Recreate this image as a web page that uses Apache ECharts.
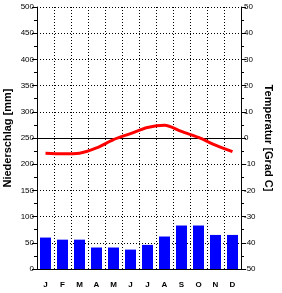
<!DOCTYPE html>
<html>
<head>
<meta charset="utf-8">
<script src="https://cdn.jsdelivr.net/npm/echarts@6/dist/echarts.min.js"></script>
<style>html,body{margin:0;padding:0;background:#fff;}#c{width:282px;height:293px;}</style>
</head>
<body>
<div id="c"></div>
<script>
var months = ['J','F','M','A','M','J','J','A','S','O','N','D'];
var precipitation = [60, 56, 56, 41, 41, 37, 46, 62, 83, 83, 65, 65];
var temperature = [-5.8, -6.0, -5.8, -3.8, -0.6, 1.7, 4.0, 4.9, 2.5, 0.2, -2.7, -5.2];
var leftTitle = 'Niederschlag [mm]';
var rightTitle = 'Temperatur [Grad C]';

var chart = echarts.init(document.getElementById('c'), null, {renderer: 'canvas'});
var dotted = {color: '#000', width: 1, type: [1, 2]};
var tickFont = {fontFamily: 'Liberation Sans, Arial, sans-serif', fontSize: 8, color: '#000'};
chart.setOption({
  animation: false,
  grid: {left: 37, right: 41, top: 7, bottom: 24, containLabel: false, outerBoundsMode: 'none'},
  xAxis: {
    type: 'category', data: months, boundaryGap: true,
    axisLine: {show: true, lineStyle: {color: '#000', width: 1}},
    axisTick: {show: false},
    axisLabel: Object.assign({margin: 12, fontWeight: 'bold', interval: 0}, tickFont),
    splitLine: {show: true, interval: 0, lineStyle: dotted}
  },
  yAxis: [{
    type: 'value', min: 0, max: 500, interval: 50, position: 'left',
    name: leftTitle, nameLocation: 'middle', nameGap: 24, nameRotate: 90, nameMoveOverlap: false,
    nameTextStyle: {fontFamily: 'Liberation Sans, Arial, sans-serif', fontSize: 11, fontWeight: 'bold', color: '#000'},
    axisLine: {show: true, lineStyle: {color: '#000', width: 1}},
    axisTick: {show: true, length: 5, lineStyle: {color: '#000'}},
    minorTick: {show: true, splitNumber: 2, length: 3, lineStyle: {color: '#000'}},
    axisLabel: Object.assign({margin: 3}, tickFont),
    splitLine: {show: true, lineStyle: dotted}
  }, {
    type: 'value', min: -50, max: 50, interval: 10, position: 'right',
    name: rightTitle, nameLocation: 'middle', nameGap: 22, nameRotate: -90, nameMoveOverlap: false,
    nameTextStyle: {fontFamily: 'Liberation Sans, Arial, sans-serif', fontSize: 11, fontWeight: 'bold', color: '#000'},
    axisLine: {show: true, lineStyle: {color: '#000', width: 1}},
    axisTick: {show: true, length: 5, lineStyle: {color: '#000'}},
    minorTick: {show: true, splitNumber: 2, length: 3, lineStyle: {color: '#000'}},
    axisLabel: Object.assign({margin: 3}, tickFont),
    splitLine: {show: false}
  }],
  series: [{
    type: 'bar', data: precipitation, yAxisIndex: 0, barWidth: 11,
    itemStyle: {color: '#0000ff'},
    markLine: {silent: true, symbol: 'none', label: {show: false},
      lineStyle: {color: '#000', width: 1, type: 'solid'},
      data: [{yAxis: 250}]}
  }, {
    type: 'line', data: temperature, yAxisIndex: 1, smooth: 0.3,
    symbol: 'none', lineStyle: {color: '#ff0000', width: 3}, z: 5
  }]
});
</script>
</body>
</html>
